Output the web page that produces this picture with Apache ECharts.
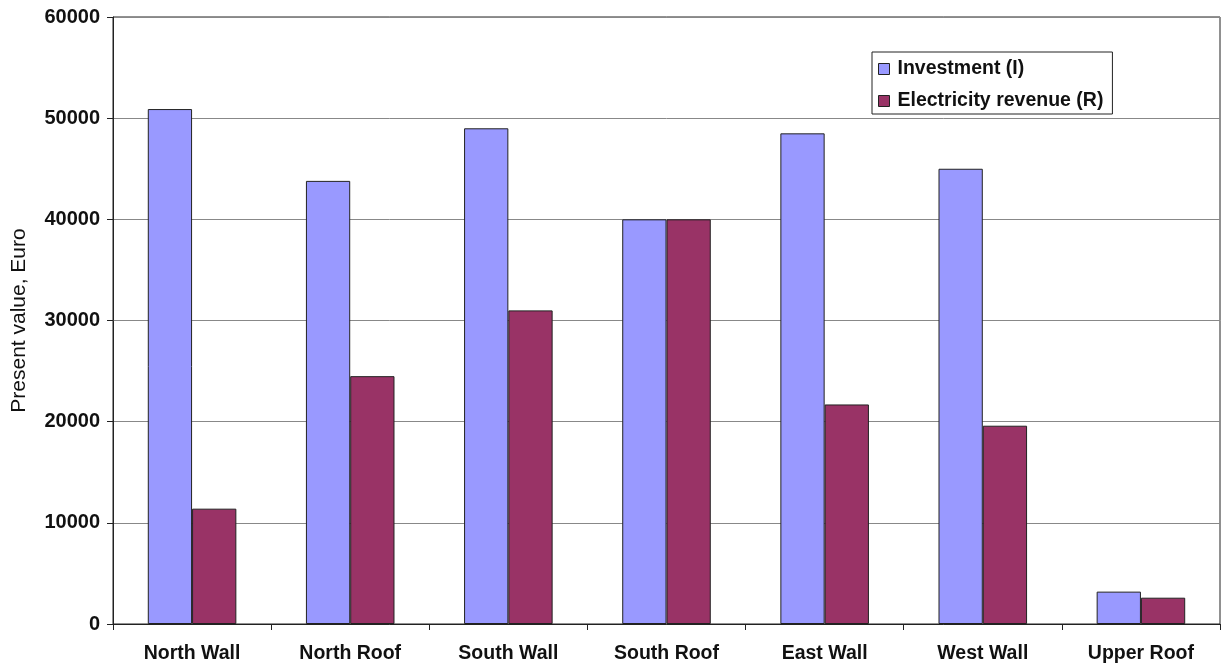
<!DOCTYPE html>
<html><head><meta charset="utf-8">
<script src="https://cdn.jsdelivr.net/npm/echarts@6/dist/echarts.min.js"></script>
<style>html,body{margin:0;padding:0;background:#fff}#c{width:1223px;height:667px}</style>
</head><body><div id="c"></div>
<script>
const categories = ["North Wall","North Roof","South Wall","South Roof","East Wall","West Wall","Upper Roof"];
const investment = [50900, 43800, 49000, 40000, 48500, 45000, 3200];
const revenue = [11400, 24500, 31000, 40000, 21700, 19600, 2600];
const yTicks = [0, 10000, 20000, 30000, 40000, 50000, 60000];

const chart = echarts.init(document.getElementById('c'));
const font = 'Liberation Sans, Arial, sans-serif';
chart.setOption({
  animation: false,
  backgroundColor: '#fff',
  grid: { left: 113, right: 3, top: 17, bottom: 43, show: true, borderColor: '#222', borderWidth: 1,
          containLabel: false, outerBoundsMode: 'none' },
  legend: {
    orient: 'vertical', left: 872, top: 52, itemWidth: 11, itemHeight: 11, itemGap: 12,
    padding: [7, 9, 3, 6], borderColor: '#222', borderWidth: 1, backgroundColor: '#fff',
    icon: 'rect',
    textStyle: { fontFamily: font, fontSize: 19.5, fontWeight: 'bold', color: '#111', padding: [0, 0, 0, 3] },
    itemStyle: { borderColor: '#222', borderWidth: 1 },
    data: ['Investment (I)', 'Electricity revenue (R)']
  },
  xAxis: {
    type: 'category', data: categories,
    axisLine: { lineStyle: { color: '#222', width: 1 } },
    axisTick: { show: true, length: 6, lineStyle: { color: '#222' } },
    axisLabel: { fontFamily: font, fontSize: 19.5, fontWeight: 'bold', color: '#111', margin: 20 }
  },
  yAxis: {
    type: 'value', min: yTicks[0], max: yTicks[yTicks.length - 1], interval: 10000,
    name: 'Present value, Euro', nameLocation: 'middle', nameGap: 83, nameRotate: 90,
    nameTextStyle: { fontFamily: font, fontSize: 21, fontWeight: 'normal', color: '#111' },
    axisLine: { show: true, lineStyle: { color: '#222', width: 1 } },
    axisTick: { show: true, length: 6, lineStyle: { color: '#222' } },
    axisLabel: { fontFamily: font, fontSize: 20, fontWeight: 'bold', color: '#111', margin: 13,
                 formatter: v => String(v) },
    splitLine: { show: true, lineStyle: { color: '#888', width: 1 } }
  },
  series: [
    { name: 'Investment (I)', type: 'bar', data: investment, barGap: '0%', barCategoryGap: '44%',
      itemStyle: { color: '#9999FF', borderColor: '#222', borderWidth: 1 } },
    { name: 'Electricity revenue (R)', type: 'bar', data: revenue,
      itemStyle: { color: '#993366', borderColor: '#222', borderWidth: 1 } }
  ]
});
</script></body></html>
